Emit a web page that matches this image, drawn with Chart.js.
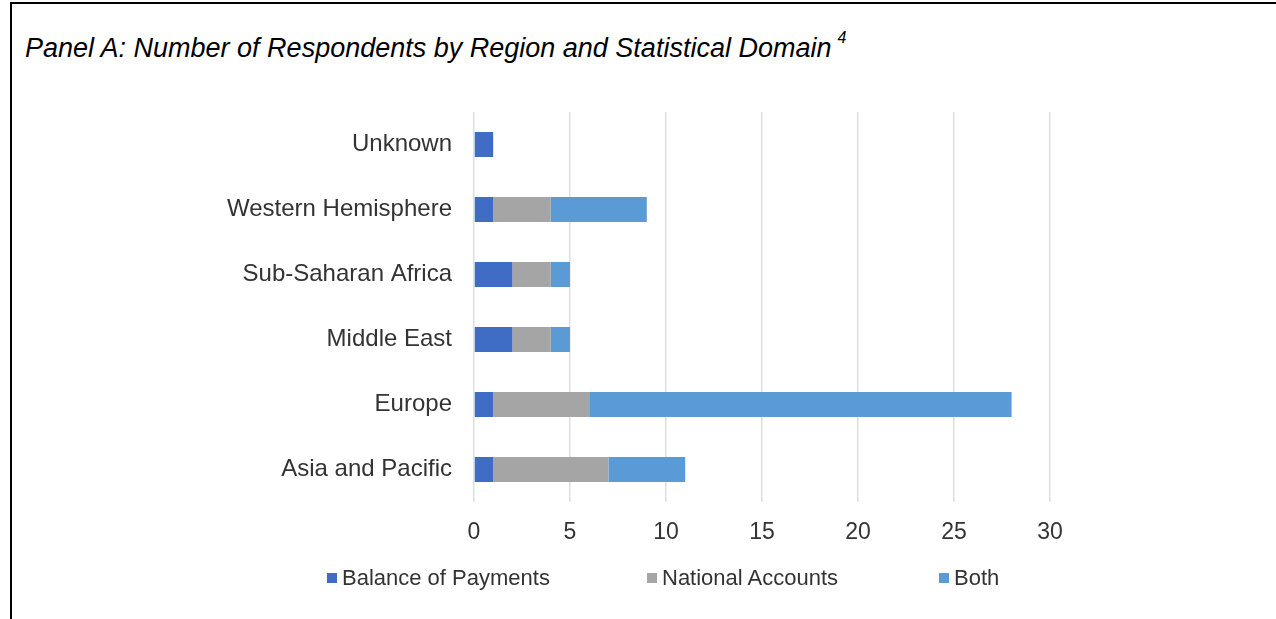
<!DOCTYPE html>
<html>
<head>
<meta charset="utf-8">
<script src="https://cdn.jsdelivr.net/npm/chart.js@4"></script>
<style>
    html, body { margin: 0; padding: 0; background: #fff; }
    body { width: 1276px; height: 619px; position: relative; overflow: hidden; font-family: "Liberation Sans", Arial, sans-serif; }
    .frame { position: absolute; left: 10px; top: 2px; right: 0; bottom: 0; border-top: 2px solid #000; border-left: 2px solid #000; }
    .title { position: absolute; left: 25px; top: 28px; font-size: 27px; font-style: italic; color: #000; line-height: 27px; white-space: nowrap; }
    .title sup { font-size: 16px; position: relative; top: -4px; margin-left: 6px; }
    #chartBox { position: absolute; left: 0; top: 0; width: 1276px; height: 619px; }
    .legend { position: absolute; left: 327px; top: 565px; display: grid; grid-template-columns: 320px 292px auto; font-size: 22px; color: #333; }
    .legend span.item { display: flex; align-items: center; white-space: nowrap; }
    .legend span.box { width: 10px; height: 10px; margin-right: 5px; display: inline-block; }
</style>
</head>
<body>
<div class="frame"></div>
<div class="title">Panel A: Number of Respondents by Region and Statistical Domain<sup>4</sup></div>
<div id="chartBox"><canvas id="respondentsChart" width="1276" height="619"></canvas></div>
<div class="legend" id="legend"></div>
<script>
    const categories = ["Unknown", "Western Hemisphere", "Sub-Saharan Africa", "Middle East", "Europe", "Asia and Pacific"];
    const seriesNames = ["Balance of Payments", "National Accounts", "Both"];
    const balanceOfPayments = [1, 1, 2, 2, 1, 1];
    const nationalAccounts = [0, 3, 2, 2, 5, 6];
    const both = [0, 5, 1, 1, 22, 4];
    const xTicks = [0, 5, 10, 15, 20, 25, 30];

    const colors = ['#3f6dc5', '#a5a5a5', '#5b9bd5'];

    const data = {
        labels: categories,
        datasets: [balanceOfPayments, nationalAccounts, both].map(function (values, i) {
            return {
                label: seriesNames[i],
                data: values,
                backgroundColor: colors[i],
                barPercentage: 0.385,
                categoryPercentage: 1
            };
        })
    };

    const ctx = document.getElementById('respondentsChart').getContext('2d');
    const chart = new Chart(ctx, {
        type: 'bar',
        data: data,
        options: {
            indexAxis: 'y',
            responsive: false,
            animation: false,
            layout: {
                padding: { top: 112, right: 226, bottom: 69, left: 0 }
            },
            plugins: {
                legend: { display: false },
                tooltip: { enabled: false }
            },
            scales: {
                x: {
                    stacked: true,
                    min: 0,
                    max: 30,
                    afterBuildTicks: function (scale) {
                        scale.ticks = xTicks.map(v => ({ value: v }));
                    },
                    afterFit: function (scale) { scale.height = 48; },
                    border: { display: false },
                    grid: { color: '#dbe0e8', lineWidth: 1.5, drawTicks: false },
                    ticks: {
                        padding: 17,
                        color: '#333',
                        font: { family: 'Liberation Sans', size: 23 }
                    }
                },
                y: {
                    stacked: true,
                    afterFit: function (scale) { scale.width = 474; },
                    border: { display: false },
                    grid: { display: false, drawTicks: false },
                    ticks: {
                        padding: 22,
                        color: '#333',
                        font: { family: 'Liberation Sans', size: 24 }
                    }
                }
            }
        }
    });

    // html legend from the datasets
    const legendEl = document.getElementById('legend');
    chart.data.datasets.forEach(function (ds) {
        const item = document.createElement('span');
        item.className = 'item';
        item.innerHTML = '<span class="box" style="background:' + ds.backgroundColor + '"></span>' + ds.label;
        legendEl.appendChild(item);
    });
</script>
</body>
</html>
